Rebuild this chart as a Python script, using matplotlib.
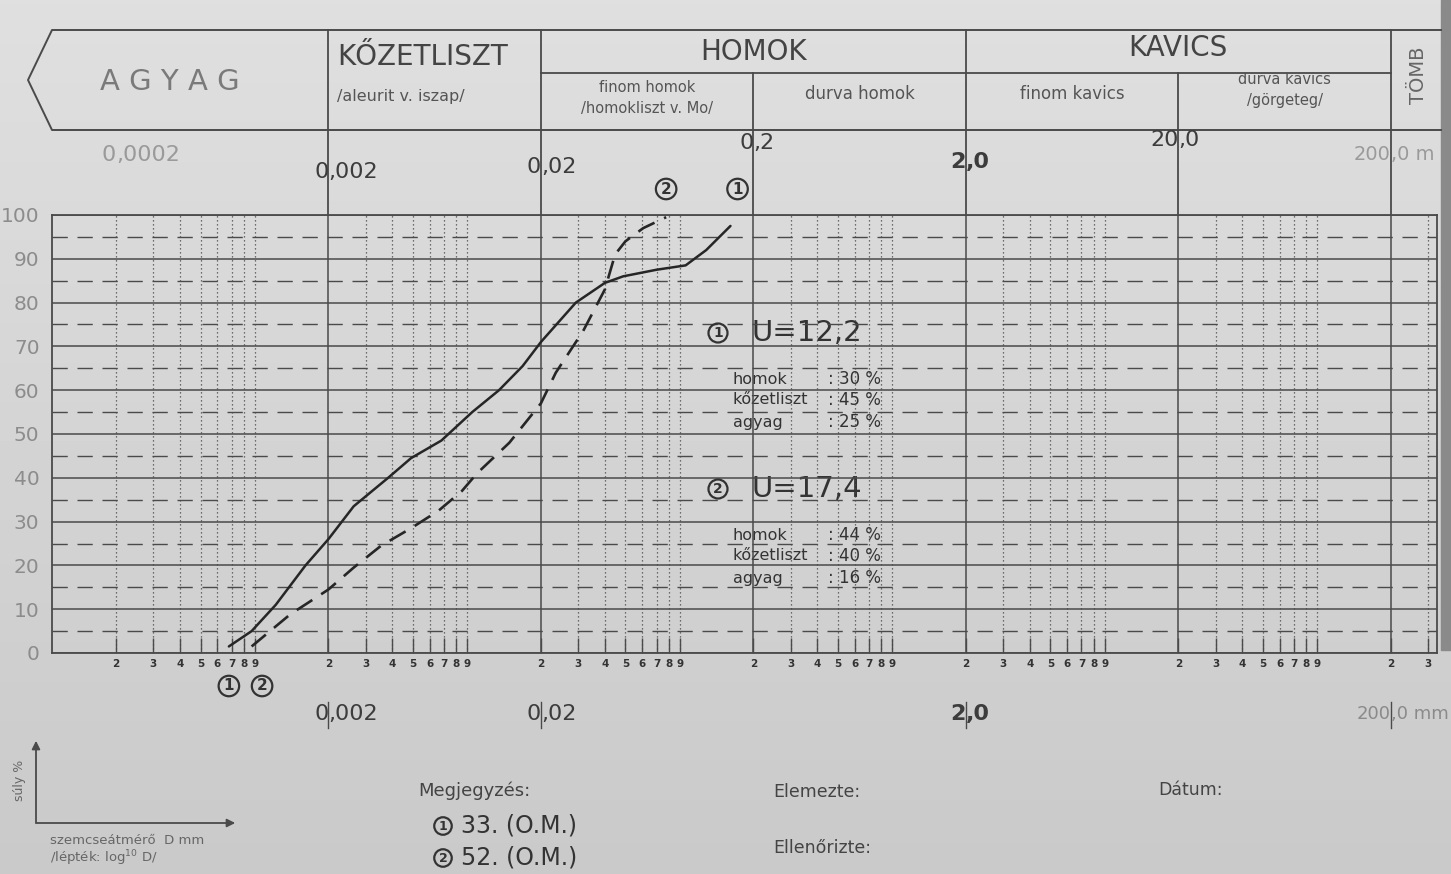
import numpy as np
import matplotlib
matplotlib.use("Agg")
import matplotlib.pyplot as plt
from matplotlib.transforms import blended_transform_factory

# ---------------- data ----------------
diam_1 = [0.00068, 0.00087, 0.00113, 0.00156, 0.002, 0.00263, 0.00382, 0.0049,
          0.0068, 0.0095, 0.0127, 0.0164, 0.02, 0.0292, 0.04, 0.0488, 0.07,
          0.096, 0.12, 0.156]
pct_1 = [1.5, 5, 11, 20, 26, 33.5, 40, 44.5, 48.5, 55, 60, 65.5, 71, 80, 84.5,
         86, 87.5, 88.5, 92, 97.5]

diam_2 = [0.00087, 0.00132, 0.002, 0.00263, 0.00354, 0.0049, 0.0066, 0.0085,
          0.01, 0.0142, 0.02, 0.0235, 0.0316, 0.04, 0.0447, 0.05, 0.0606, 0.0777]
pct_2 = [1.5, 8.8, 14.5, 19.5, 24.5, 28.5, 32.5, 37, 41, 48, 57, 64, 73.5, 83,
         91, 94, 97, 99.5]

y_ticks = [0, 10, 20, 30, 40, 50, 60, 70, 80, 90, 100]
y_tick_labels = ["0", "10", "20", "30", "40", "50", "60", "70", "80", "90", "100"]
y_half = [5, 15, 25, 35, 45, 55, 65, 75, 85, 95]

x_min, x_max = 1e-4, 330.0
decades = [1e-4, 1e-3, 1e-2, 1e-1, 1, 10, 100]
multipliers = [2, 3, 4, 5, 6, 7, 8, 9]
boundaries = [0.002, 0.02, 0.2, 2, 20, 200]

top_labels = [(0.0002, "0", ",0002", 155), (0.002, "0", ",002", 172),
              (0.02, "0", ",02", 167), (0.2, "0", ",2", 143),
              (2, "2", ",0", 162), (20, "20", ",0", 140), (200, "200", ",0 m", 155)]
bottom_labels = [(0.002, "0", ",002"), (0.02, "0", ",02"), (2, "2", ",0"),
                 (200, "200", ",0 mm")]

sample_1 = {"U": "U=12,2", "homok": "30 %", "kőzetliszt": "45 %", "agyag": "25 %"}
sample_2 = {"U": "U=17,4", "homok": "44 %", "kőzetliszt": "40 %", "agyag": "16 %"}

# ---------------- figure ----------------
W, H = 1451, 874
fig = plt.figure(figsize=(W / 100, H / 100), dpi=100)
fig.patch.set_facecolor("#d2d2d2")

bg = fig.add_axes([0, 0, 1, 1])
bg.set_xlim(0, W)
bg.set_ylim(H, 0)
bg.axis("off")
grad = np.linspace(0.875, 0.79, 200)[:, None] * np.ones((1, 10))
bg.imshow(grad, extent=[0, W, H, 0], cmap="gray", vmin=0, vmax=1, aspect="auto", zorder=0)
bg.fill_between([1441, W], 0, 650, color="#8a8a8a", zorder=1)

ax_l, ax_r, ax_t, ax_b = 52, 1437, 215, 653
ax = fig.add_axes([ax_l / W, 1 - ax_b / H, (ax_r - ax_l) / W, (ax_b - ax_t) / H])
ax.set_zorder(3)
ax.patch.set_alpha(0)
ax.set_xscale("log")
ax.set_xlim(x_min, x_max)
ax.set_ylim(0, 100)

LINE = "#4a4a4a"
INK = "#333333"

# grid
for y in y_ticks:
    ax.axhline(y, color=LINE, lw=1.1, zorder=1)
for y in y_half:
    ax.axhline(y, color=LINE, lw=1.0, ls=(0, (11, 7)), zorder=1)
minor_pos, minor_lab = [], []
for d in decades:
    for m in multipliers:
        v = m * d
        if v <= x_max:
            minor_pos.append(v)
            minor_lab.append(str(m))
for v in minor_pos:
    if any(abs(v / b - 1) < 1e-6 for b in boundaries):
        ax.axvline(v, color=LINE, lw=1.1, zorder=1)
    else:
        ax.axvline(v, color=LINE, lw=0.9, ls=(0, (1, 2.2)), zorder=1)

for s in ax.spines.values():
    s.set_color(LINE)
    s.set_linewidth(1.3)

ax.set_xticks([], minor=False)
ax.set_xticks(minor_pos, minor_lab, minor=True)
ax.tick_params(axis="x", which="minor", direction="in", length=11, width=1.0,
               color=LINE, labelsize=7.5, labelcolor=INK, pad=4)
for t in ax.get_xticklabels(minor=True):
    t.set_fontweight("bold")
ax.set_yticks(y_ticks, y_tick_labels)
ax.tick_params(axis="y", length=0, labelsize=14.5, labelcolor="#8c8c8c", pad=9)

# curves
ax.plot(diam_1, pct_1, color="#262626", lw=1.8, zorder=4, solid_capstyle="round")
ax.plot(diam_2, pct_2, color="#262626", lw=1.9, ls=(0, (7, 4)), zorder=4)

tx = blended_transform_factory(ax.transData, bg.transData)

# ---------------- header table ----------------
hdr_top, hdr_mid, hdr_bot = 30, 73, 130
bg.plot([W - 10, 52, 28, 52, W - 10], [hdr_top, hdr_top, 80, hdr_bot, hdr_bot],
        color=LINE, lw=1.4, zorder=2)
ax.plot([0.02, 200], [hdr_mid, hdr_mid], transform=tx, color=LINE, lw=1.3, clip_on=False)
for b in [0.002, 0.02, 2, 200]:
    ax.plot([b, b], [hdr_top, ax_t], transform=tx, color=LINE, lw=1.3, clip_on=False)
for b in [0.2, 20]:
    ax.plot([b, b], [hdr_mid, ax_t], transform=tx, color=LINE, lw=1.3, clip_on=False)

def gmid(a, b):
    return np.sqrt(a * b)

bg.text(170, 82, "A G Y A G", ha="center", va="center",
        fontsize=21, color="#7a7a7a")
ax.text(0.0022, 57, "KŐZETLISZT", transform=tx, ha="left", va="center",
        fontsize=20, color="#444444", clip_on=False)
ax.text(0.0022, 96, "/aleurit v. iszap/", transform=tx, ha="left", va="center",
        fontsize=11.5, color="#555555", clip_on=False)
ax.text(gmid(0.02, 2), 52, "HOMOK", transform=tx, ha="center", va="center",
        fontsize=20, color="#444444", clip_on=False)
ax.text(gmid(0.02, 0.2), 88, "finom homok", transform=tx, ha="center", va="center",
        fontsize=10.5, color="#555555", clip_on=False)
ax.text(gmid(0.02, 0.2), 108, "/homokliszt v. Mo/", transform=tx, ha="center", va="center",
        fontsize=10.5, color="#555555", clip_on=False)
ax.text(gmid(0.2, 2), 94, "durva homok", transform=tx, ha="center", va="center",
        fontsize=12, color="#555555", clip_on=False)
ax.text(gmid(2, 200), 48, "KAVICS", transform=tx, ha="center", va="center",
        fontsize=20, color="#444444", clip_on=False)
ax.text(gmid(2, 20), 94, "finom kavics", transform=tx, ha="center", va="center",
        fontsize=12, color="#555555", clip_on=False)
ax.text(gmid(20, 200), 80, "durva kavics", transform=tx, ha="center", va="center",
        fontsize=10.5, color="#555555", clip_on=False)
ax.text(gmid(20, 200), 100, "/görgeteg/", transform=tx, ha="center", va="center",
        fontsize=10.5, color="#555555", clip_on=False)
bg.text(1418, 75, "TÖMB", rotation=90, ha="center", va="center", fontsize=14,
        color="#666666")

# boundary labels (comma on the line)
for d, a, b, y in top_labels:
    faint = d in (0.0002, 200)
    col = "#9a9a9a" if faint else "#3c3c3c"
    fw = "bold" if d == 2 else "normal"
    fs = 14 if d == 200 else 16
    ax.text(d, y, a, transform=tx, ha="right", va="center", fontsize=fs, color=col,
            fontweight=fw, clip_on=False)
    ax.text(d, y, b, transform=tx, ha="left", va="center", fontsize=fs, color=col,
            fontweight=fw, clip_on=False)
for d, a, b in bottom_labels:
    faint = d == 200
    col = "#8a8a8a" if faint else "#3c3c3c"
    fw = "bold" if d == 2 else "normal"
    fs = 13 if d == 200 else 16
    ax.text(d, 714, a, transform=tx, ha="right", va="center", fontsize=fs, color=col,
            fontweight=fw, clip_on=False)
    ax.text(d, 714, b, transform=tx, ha="left", va="center", fontsize=fs, color=col,
            fontweight=fw, clip_on=False)
    ax.plot([d, d], [702, 728], transform=tx, color=LINE, lw=1.0, clip_on=False)

# circled sample numbers
def circ(x, y, n, transform, size=11):
    ax.text(x, y, n, transform=transform, ha="center", va="center", fontsize=size,
            color=INK, fontweight="bold", clip_on=False,
            bbox=dict(boxstyle="circle,pad=0.18", fc="none", ec=INK, lw=1.6))

circ(diam_2[-1], 189, "2", tx)
circ(diam_1[-1] * 1.08, 189, "1", tx)
circ(diam_1[0], 686, "1", tx)
circ(diam_2[0] * 1.12, 686, "2", tx)

# ---------------- annotations ----------------
def sample_block(y0, num, info):
    circ(718, y0, num, bg.transData, size=10)
    bg.text(752, y0, info["U"], ha="left", va="center", fontsize=21, color=INK)
    rows = [("homok", 46), ("kőzetliszt", 67), ("agyag", 89)]
    for name, dy in rows:
        bg.text(733, y0 + dy, name, ha="left", va="center", fontsize=11.5, color=INK)
        bg.text(828, y0 + dy, ": " + info[name], ha="left", va="center", fontsize=12,
                color=INK)

sample_block(333, "1", sample_1)
sample_block(489, "2", sample_2)

# ---------------- footer ----------------
bg.annotate("", xy=(36, 738), xytext=(36, 826),
            arrowprops=dict(arrowstyle="-|>", color=LINE, lw=1.3, mutation_scale=12))
bg.annotate("", xy=(238, 823), xytext=(34, 823),
            arrowprops=dict(arrowstyle="-|>", color=LINE, lw=1.3, mutation_scale=12))
bg.text(19, 780, "súly %", rotation=90, ha="center", va="center", fontsize=9, color="#666666")
bg.text(50, 840, "szemcseátmérő  D mm", ha="left", va="center", fontsize=9.5, color="#666666")
bg.text(50, 858, "/lépték: log$^{10}$ D/", ha="left", va="center", fontsize=9.5, color="#666666")

bg.text(418, 791, "Megjegyzés:", ha="left", va="center", fontsize=13, color="#444444")
circ(443, 826, "1", bg.transData, size=9)
bg.text(461, 826, "33. (O.M.)", ha="left", va="center", fontsize=17, color=INK)
circ(443, 858, "2", bg.transData, size=9)
bg.text(461, 858, "52. (O.M.)", ha="left", va="center", fontsize=17, color=INK)

bg.text(773, 792, "Elemezte:", ha="left", va="center", fontsize=12.5, color="#444444")
bg.text(773, 848, "Ellenőrizte:", ha="left", va="center", fontsize=12.5, color="#444444")
bg.text(1158, 790, "Dátum:", ha="left", va="center", fontsize=12.5, color="#444444")

fig.savefig("out.png", dpi=100, facecolor=fig.get_facecolor())
